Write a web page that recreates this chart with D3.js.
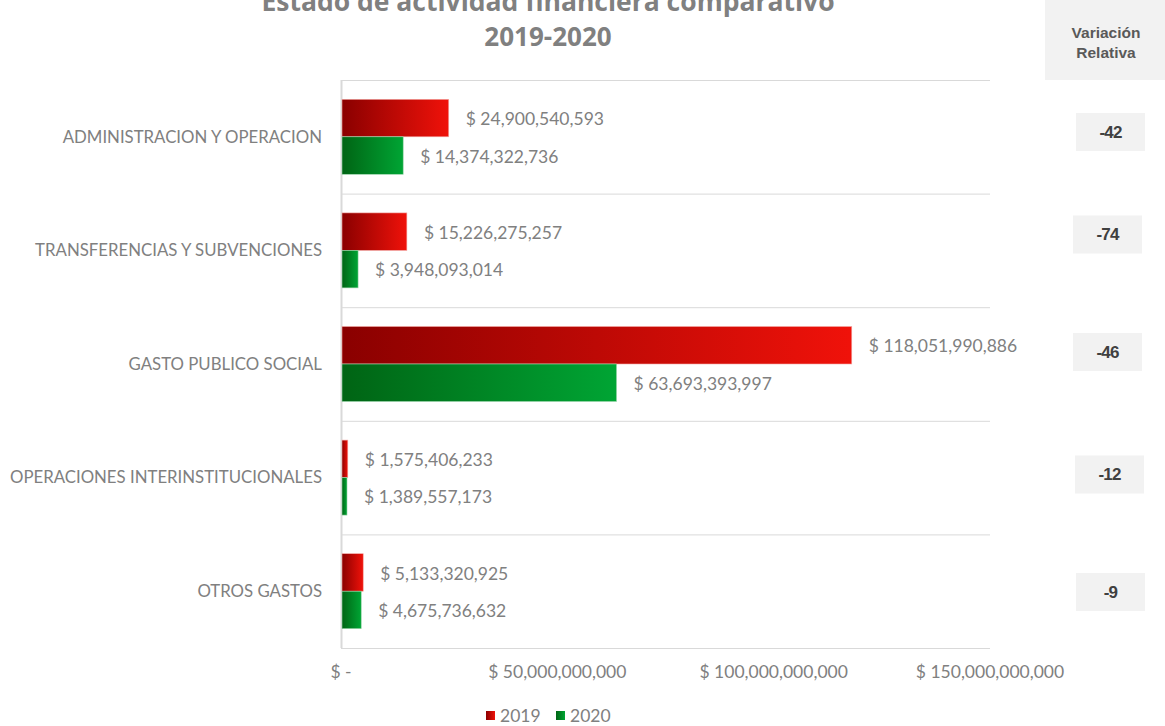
<!DOCTYPE html>
<html><head><meta charset="utf-8">
<script src="https://cdn.jsdelivr.net/npm/d3@7"></script>
<style>body{margin:0;background:#fff;}svg{display:block;}</style>
</head><body>
<svg id="c" width="1165" height="726"></svg>
<script>
const categories = ["ADMINISTRACION Y OPERACION","TRANSFERENCIAS Y SUBVENCIONES","GASTO PUBLICO SOCIAL","OPERACIONES INTERINSTITUCIONALES","OTROS GASTOS"];
const values2019 = [24900540593, 15226275257, 118051990886, 1575406233, 5133320925];
const values2020 = [14374322736, 3948093014, 63693393997, 1389557173, 4675736632];
const variation = [-42, -74, -46, -12, -9];
const seriesNames = ["2019","2020"];
const xTicks = [0, 50000000000, 100000000000, 150000000000];

const svg = d3.select("#c");
const font = "Lato, 'Open Sans', sans-serif";
const arial = "'Liberation Sans', Arial, sans-serif";
const M = {left:341, right:990, top:80, bottom:648};
const txtCol = "#808080";

const defs = svg.append("defs");
function grad(id, c0, c1){
  const g = defs.append("linearGradient").attr("id", id).attr("x1","0%").attr("x2","100%").attr("y1","0%").attr("y2","0%");
  g.append("stop").attr("offset","0%").attr("stop-color", c0);
  g.append("stop").attr("offset","100%").attr("stop-color", c1);
}
grad("gRed", "#8a0000", "#f0120a");
grad("gGreen", "#006414", "#00a534");

const x = d3.scaleLinear().domain([0,150000000000]).range([M.left, M.right]);
const y = d3.scaleBand().domain(categories).range([M.top, M.bottom]).paddingInner(0).paddingOuter(0);
const inner = d3.scaleBand().domain(seriesNames).range([0, y.bandwidth()]).paddingInner(0).paddingOuter(0.515);

// title
svg.append("text").attr("x", 548).attr("y", 11).attr("text-anchor","middle")
  .attr("font-family", "'Open Sans', Lato, sans-serif").attr("font-weight","bold").attr("font-size", 26.5).attr("fill",txtCol)
  .text("Estado de actividad financiera comparativo");
svg.append("text").attr("x", 548).attr("y", 46).attr("text-anchor","middle")
  .attr("font-family", "'Open Sans', Lato, sans-serif").attr("font-weight","bold").attr("font-size", 26).attr("fill",txtCol)
  .text("2019-2020");

// separators
const seps = categories.map(c => y(c)).concat([M.bottom]);
svg.append("g").selectAll("line").data(seps).join("line")
  .attr("x1", M.left).attr("x2", M.right).attr("y1", d=>d+0.5).attr("y2", d=>d+0.5)
  .attr("stroke", "#d9d9d9").attr("stroke-width", 1);
// vertical axis
svg.append("line").attr("x1", M.left+0.5).attr("x2", M.left+0.5).attr("y1", M.top).attr("y2", M.bottom)
  .attr("stroke","#d9d9d9").attr("stroke-width", 2);

// category labels
svg.append("g").selectAll("text").data(categories).join("text")
  .attr("x", 322).attr("y", d => y(d) + y.bandwidth()/2).attr("dy","0.35em")
  .attr("text-anchor","end").attr("font-family", font).attr("font-size", 16.8).attr("fill",txtCol)
  .text(d=>d);

const fmt = d3.format(",.0f");
const series = [{name:"2019", vals:values2019, fill:"url(#gRed)", edge:"#f3a8a4"},
                {name:"2020", vals:values2020, fill:"url(#gGreen)", edge:"#9fd6ae"}];
series.forEach(s => {
  const g = svg.append("g");
  g.selectAll("rect").data(categories).join("rect")
    .attr("x", x(0)+1).attr("y", (d)=> y(d)+inner(s.name))
    .attr("width", (d,i)=> x(s.vals[i]) - x(0) - 1).attr("height", inner.bandwidth())
    .attr("fill", s.fill).attr("stroke", s.edge).attr("stroke-width", 0.6);
  g.selectAll("text").data(categories).join("text")
    .attr("x", (d,i)=> x(s.vals[i]) + 17).attr("y", d=> y(d)+inner(s.name)+inner.bandwidth()/2 + 1).attr("dy","0.35em")
    .attr("font-family", font).attr("font-size", 17.5).attr("fill",txtCol)
    .text((d,i)=> "$ " + fmt(s.vals[i]));
});

// x tick labels
svg.append("g").selectAll("text").data(xTicks).join("text")
  .attr("x", d=>x(d)).attr("y", 672).attr("dy","0.35em").attr("text-anchor","middle")
  .attr("font-family", font).attr("font-size", 17.5).attr("fill",txtCol)
  .text(d=> d===0 ? "$ -" : "$ " + fmt(d));

// legend
const leg = svg.append("g");
[{n:"2019", f:"url(#gRed)", x:486},{n:"2020", f:"url(#gGreen)", x:556}].forEach(l=>{
  leg.append("rect").attr("x", l.x).attr("y", 711).attr("width", 9).attr("height", 9).attr("fill", l.f);
  leg.append("text").attr("x", l.x+14).attr("y", 716).attr("dy","0.35em")
    .attr("font-family", font).attr("font-size", 17.5).attr("fill",txtCol).text(l.n);
});

// right header
svg.append("rect").attr("x",1045).attr("y",0).attr("width",120).attr("height",80).attr("fill","#f2f2f2");
svg.append("text").attr("x",1106).attr("y",38).attr("text-anchor","middle").attr("font-family",arial)
  .attr("font-weight","bold").attr("font-size",15.5).attr("fill","#595959").text("Variación");
svg.append("text").attr("x",1106).attr("y",58).attr("text-anchor","middle").attr("font-family",arial)
  .attr("font-weight","bold").attr("font-size",15.5).attr("fill","#595959").text("Relativa");

// variation boxes (layout positions)
const boxX = [1076, 1073, 1073, 1075, 1076];
const boxCy = [132, 234.5, 352, 474.5, 592];
const vb = svg.append("g");
categories.forEach((c,i)=>{
  const cy = boxCy[i];
  vb.append("rect").attr("x", boxX[i]).attr("y", cy-19).attr("width", 69).attr("height", 38).attr("fill","#f2f2f2");
  vb.append("text").attr("x", boxX[i]+34.5).attr("y", cy).attr("dy","0.35em").attr("text-anchor","middle")
    .attr("font-family",arial).attr("font-weight","bold").attr("font-size",17)
    .attr("fill","#404040").attr("letter-spacing","-0.8").text(variation[i]);
});
</script>
</body></html>
